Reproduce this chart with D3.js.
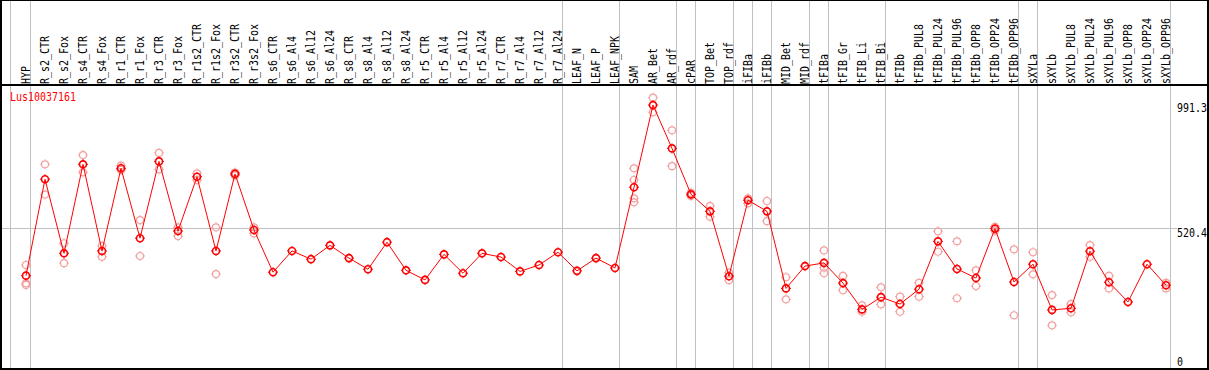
<!DOCTYPE html>
<html>
<head>
<meta charset="utf-8">
<script src="https://cdn.jsdelivr.net/npm/d3@7/dist/d3.min.js"></script>
<style>
  body { margin: 0; background: #fff; }
  svg text { font-family: 'DejaVu Sans Mono', monospace; font-size: 12px; }
</style>
</head>
<body>
<div id="main"></div>
<script>
// sample names along the top
var samples = ['HYP', 'R_s2_CTR', 'R_s2_Fox', 'R_s4_CTR', 'R_s4_Fox', 'R_r1_CTR', 'R_r1_Fox',
  'R_r3_CTR', 'R_r3_Fox', 'R_r1s2_CTR', 'R_r1s2_Fox', 'R_r3s2_CTR', 'R_r3s2_Fox',
  'R_s6_CTR', 'R_s6_Al4', 'R_s6_Al12', 'R_s6_Al24', 'R_s8_CTR', 'R_s8_Al4', 'R_s8_Al12', 'R_s8_Al24',
  'R_r5_CTR', 'R_r5_Al4', 'R_r5_Al12', 'R_r5_Al24', 'R_r7_CTR', 'R_r7_Al4', 'R_r7_Al12', 'R_r7_Al24',
  'LEAF_N', 'LEAF_P', 'LEAF_NPK', 'SAM', 'AR_Bet', 'AR_rdf', 'cPAR', 'TOP_Bet', 'TOP_rdf',
  'iFIBa', 'iFIBb', 'MID_Bet', 'MID_rdf', 'tFIBa', 'tFIB_Gr', 'tFIB_Li', 'tFIB_Bi', 'tFIBb',
  'tFIBb_PUL8', 'tFIBb_PUL24', 'tFIBb_PUL96', 'tFIBb_OPP8', 'tFIBb_OPP24', 'tFIBb_OPP96',
  'sXYLa', 'sXYLb', 'sXYLb_PUL8', 'sXYLb_PUL24', 'sXYLb_PUL96', 'sXYLb_OPP8', 'sXYLb_OPP24', 'sXYLb_OPP96'];

// mean expression per sample
var means = [342, 705, 426, 761, 435, 746, 483, 772, 510, 714, 435, 725, 514,
  355, 435, 404, 456, 408, 366, 468, 362,
  326, 422, 351, 426, 412, 358, 382, 430,
  360, 408, 371, 675, 984, 821, 648, 584, 340,
  626, 584, 294, 378, 390, 314, 215, 261, 235,
  291, 471, 367, 333, 519, 318,
  385, 213, 219, 434, 317, 243, 385, 306];

// individual replicates per sample (same order as samples)
var replicates = [[382, 313, 307], [761, 647], [464, 389], [796, 731], [454, 413], [756, 740], [551, 416],
  [804, 742], [524, 491], [727, 702], [524, 348], [730, 719], [524, 501],
  [], [], [], [], [], [], [], [],
  [], [], [], [], [], [], [], [],
  [], [], [], [746, 702, 633, 618], [1012, 957], [889, 754], [654, 642], [604, 564], [353, 325],
  [633, 614], [623, 547], [336, 253], [], [437, 372, 351], [341, 287], [230, 206], [298, 234], [263, 206],
  [315, 263], [509, 432], [471, 257], [362, 303], [526, 511], [441, 193],
  [430, 347], [269, 155], [235, 204], [457, 413], [341, 294], [], [], [315, 294]];

// a grey separator is drawn after each of these samples
var groupEnds = ['HYP', 'R_r7_Al24', 'LEAF_NPK', 'AR_rdf', 'cPAR', 'TOP_rdf', 'iFIBa', 'iFIBb',
  'MID_rdf', 'tFIBa', 'tFIB_Bi', 'tFIBb_OPP96', 'sXYLa', 'sXYLb_OPP96'];

var yTicks = [0, 520.4, 991.3];
var gridValues = [520.4];
var yMax = 1040.8;
var geneName = 'Lus10037161';

// layout
var svgWidth = 1209;
var svgHeight = 370;
var headerBottom = 85;
var plotBottom = 368;
var charW = 6;

var svg = d3.select('#main')
  .append('svg')
  .attr('width', svgWidth)
  .attr('height', svgHeight);

svg.append('rect')
  .attr('width', svgWidth)
  .attr('height', svgHeight)
  .attr('fill', '#fff');

var xScale = d3.scalePoint()
  .domain(samples)
  .range([26, 1166]);

var yScale = d3.scaleLinear()
  .domain([0, yMax])
  .range([366.5, 90]);

// vertical group separators
var sepX = [xScale(samples[0]) - 15.5].concat(groupEnds.map((d) => xScale(d) + 4.5));

svg.append('g')
  .selectAll('line')
  .data(sepX)
  .enter()
  .append('line')
  .attr('x1', (d) => d)
  .attr('x2', (d) => d)
  .attr('y1', 0)
  .attr('y2', plotBottom)
  .attr('stroke', '#c0c0c0')
  .attr('stroke-width', 1);

// horizontal grid line
svg.append('g')
  .selectAll('line')
  .data(gridValues)
  .enter()
  .append('line')
  .attr('x1', 2)
  .attr('x2', 1177)
  .attr('y1', (d) => Math.round(yScale(d)) + 0.5)
  .attr('y2', (d) => Math.round(yScale(d)) + 0.5)
  .attr('stroke', '#c0c0c0')
  .attr('stroke-width', 1);

// marker shape: circle with small nubs
var nubs = 'M0,-5V-4M0,4V5M-5,0H-4M4,0H5';

function addMarker(g, color, width) {
  g.append('circle')
    .attr('r', 3.5)
    .attr('fill', 'none')
    .attr('stroke', color)
    .attr('stroke-width', width);
  g.append('path')
    .attr('d', nubs)
    .attr('stroke', color)
    .attr('stroke-width', 1);
}

// replicate points
var repData = [];
samples.forEach((s, i) => replicates[i].forEach((v) => repData.push({ s: s, v: v })));

svg.append('g')
  .selectAll('g')
  .data(repData)
  .enter()
  .append('g')
  .attr('transform', (d) => 'translate(' + [xScale(d.s), yScale(d.v)] + ')')
  .each(function () { addMarker(d3.select(this), '#f2a0a0', 1.2); });

// mean line
svg.append('path')
  .datum(means)
  .attr('fill', 'none')
  .attr('stroke', 'red')
  .attr('stroke-width', 1)
  .attr('d', d3.line()
    .x((d, i) => xScale(samples[i]))
    .y((d) => yScale(d)));

// mean points
svg.append('g')
  .selectAll('g')
  .data(means)
  .enter()
  .append('g')
  .attr('transform', (d, i) => 'translate(' + [xScale(samples[i]), yScale(d)] + ')')
  .each(function () { addMarker(d3.select(this), 'red', 1.6); });

// rotated sample labels
svg.append('g')
  .selectAll('text')
  .data(samples)
  .enter()
  .append('text')
  .attr('transform', (d) => 'translate(' + [xScale(d) + 3.5, 84] + ') rotate(-90)')
  .attr('textLength', (d) => d.length * charW)
  .attr('lengthAdjust', 'spacingAndGlyphs')
  .attr('fill', '#000')
  .text((d) => d);

// gene name
svg.append('text')
  .attr('x', 10)
  .attr('y', 101)
  .attr('fill', 'red')
  .attr('textLength', geneName.length * charW)
  .attr('lengthAdjust', 'spacingAndGlyphs')
  .text(geneName);

// value labels on the right
svg.append('g')
  .selectAll('text')
  .data(yTicks)
  .enter()
  .append('text')
  .attr('x', 1177)
  .attr('y', (d) => Math.min(yScale(d) + 8.5, 365.5))
  .attr('textLength', (d) => String(d).length * charW)
  .attr('lengthAdjust', 'spacingAndGlyphs')
  .attr('fill', '#000')
  .text((d) => String(d));

// frame
var frame = svg.append('g').attr('fill', '#000');
frame.append('rect').attr('x', 0).attr('y', 0).attr('width', svgWidth).attr('height', 1);
frame.append('rect').attr('x', 0).attr('y', headerBottom - 1).attr('width', svgWidth).attr('height', 2);
frame.append('rect').attr('x', 0).attr('y', 0).attr('width', 2).attr('height', svgHeight);
frame.append('rect').attr('x', svgWidth - 2).attr('y', 0).attr('width', 2).attr('height', svgHeight);
frame.append('rect').attr('x', 0).attr('y', plotBottom).attr('width', svgWidth).attr('height', 2);
</script>
</body>
</html>
